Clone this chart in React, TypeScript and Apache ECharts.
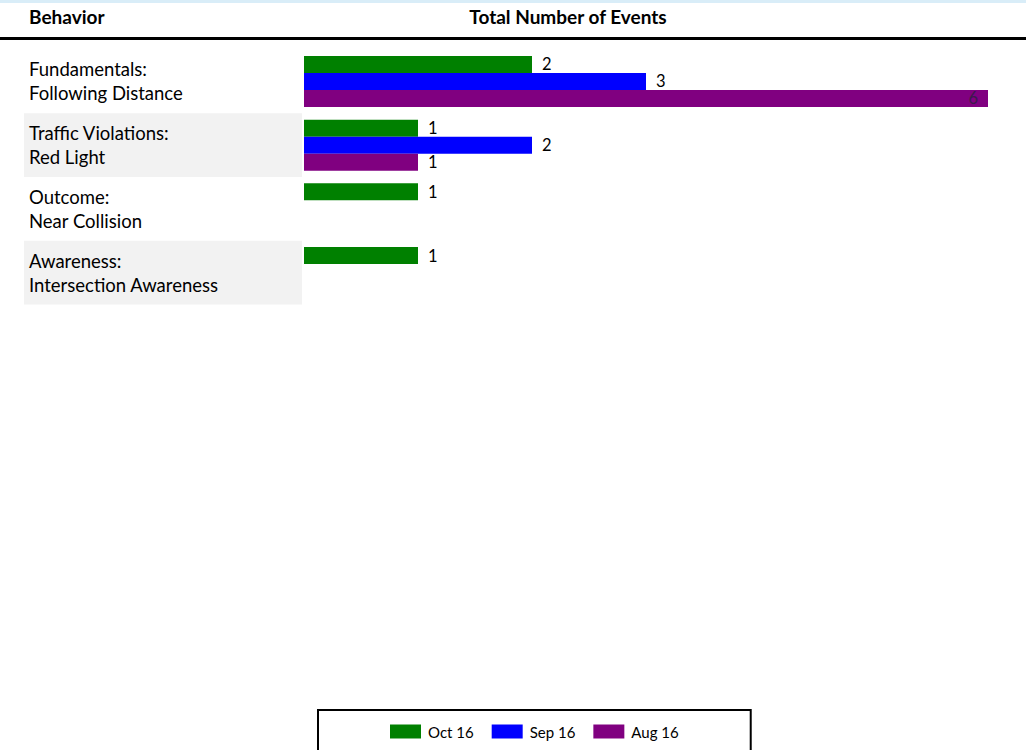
import React, { useEffect, useRef } from "react";
import * as echarts from "echarts";

const categories = [
  "Fundamentals:\nFollowing Distance",
  "Traffic Violations:\nRed Light",
  "Outcome:\nNear Collision",
  "Awareness:\nIntersection Awareness",
];
const seriesNames = ["Oct 16", "Sep 16", "Aug 16"];
const oct16 = [2, 1, 1, 1];
const sep16: (number | null)[] = [3, 2, null, null];
const aug16: (number | null)[] = [6, 1, null, null];
const colors = ["#008000", "#0000ff", "#800080"];
const shadedRows = [1, 3];

const FONT = "Lato";

export default function App() {
  const ref = useRef<HTMLDivElement>(null);
  useEffect(() => {
    if (!ref.current) return;
    const chart = echarts.init(ref.current, null, { renderer: "svg" });
    const valueLabel = {
      show: true,
      position: "right",
      distance: 10,
      color: "#000",
      fontFamily: FONT,
      fontSize: 16.5,
    };
    const mkData = (arr: (number | null)[]) =>
      arr.map((v) =>
        v === 6
          ? {
              value: v,
              label: { position: "insideRight", color: "#3b1b4b", distance: 10 },
            }
          : v
      );
    chart.setOption({
      animation: false,
      backgroundColor: "#fff",
      title: [
        {
          text: "Behavior",
          left: 29,
          top: 7,
          padding: 0,
          textStyle: { fontFamily: FONT, fontWeight: "bold", fontSize: 19, color: "#000" },
        },
        {
          text: "Total Number of Events",
          left: 568,
          top: 7,
          padding: 0,
          textAlign: "center",
          textStyle: { fontFamily: FONT, fontWeight: "bold", fontSize: 19, color: "#000" },
        },
      ],
      graphic: [
        { type: "rect", left: 0, top: 0, shape: { width: 1026, height: 3 }, style: { fill: "#d9edf8" } },
        { type: "rect", left: 0, top: 37, shape: { width: 1026, height: 3 }, style: { fill: "#000" } },
      ],
      legend: {
        data: seriesNames,
        left: 318,
        top: 710,
        padding: [14, 72, 40, 72],
        itemWidth: 31,
        itemHeight: 14,
        itemGap: 18,
        borderColor: "#000",
        borderWidth: 2,
        textStyle: { fontFamily: FONT, fontSize: 15, color: "#000", padding: [0, 0, 0, 2] },
        icon: "rect",
      },
      grid: { left: 304, right: 38, top: 49.6, height: 254.8, containLabel: false },
      xAxis: { type: "value", min: 0, max: 6, show: false },
      yAxis: {
        type: "category",
        inverse: true,
        data: categories,
        z: 5,
        axisLine: { show: false },
        axisTick: { show: false },
        axisLabel: {
          align: "left",
          margin: 275,
          fontFamily: FONT,
          fontSize: 18.5,
          lineHeight: 24,
          color: "#000",
        },
      },
      series: [
        {
          type: "custom",
          z: 0,
          clip: false,
          silent: true,
          encode: { x: 0, y: 1 },
          data: shadedRows.map((r) => [0, r]),
          renderItem: (params: any, api: any) => {
            const yc = api.coord([0, api.value(1)])[1];
            const h = api.size([0, 1])[1];
            return {
              type: "rect",
              shape: { x: 24, y: yc - h / 2, width: 278, height: h },
              style: { fill: "#f2f2f2" },
            };
          },
        },
        {
          name: seriesNames[0],
          type: "bar",
          data: mkData(oct16),
          itemStyle: { color: colors[0] },
          barGap: "0%",
          barCategoryGap: "20%",
          label: valueLabel,
        },
        {
          name: seriesNames[1],
          type: "bar",
          data: mkData(sep16),
          itemStyle: { color: colors[1] },
          barGap: "0%",
          barCategoryGap: "20%",
          label: valueLabel,
        },
        {
          name: seriesNames[2],
          type: "bar",
          data: mkData(aug16),
          itemStyle: { color: colors[2] },
          barGap: "0%",
          barCategoryGap: "20%",
          label: valueLabel,
        },
      ],
    });
    return () => chart.dispose();
  }, []);
  return (
    <div
      ref={ref}
      style={{ position: "fixed", left: 0, top: 0, width: 1026, height: 750 }}
    />
  );
}
